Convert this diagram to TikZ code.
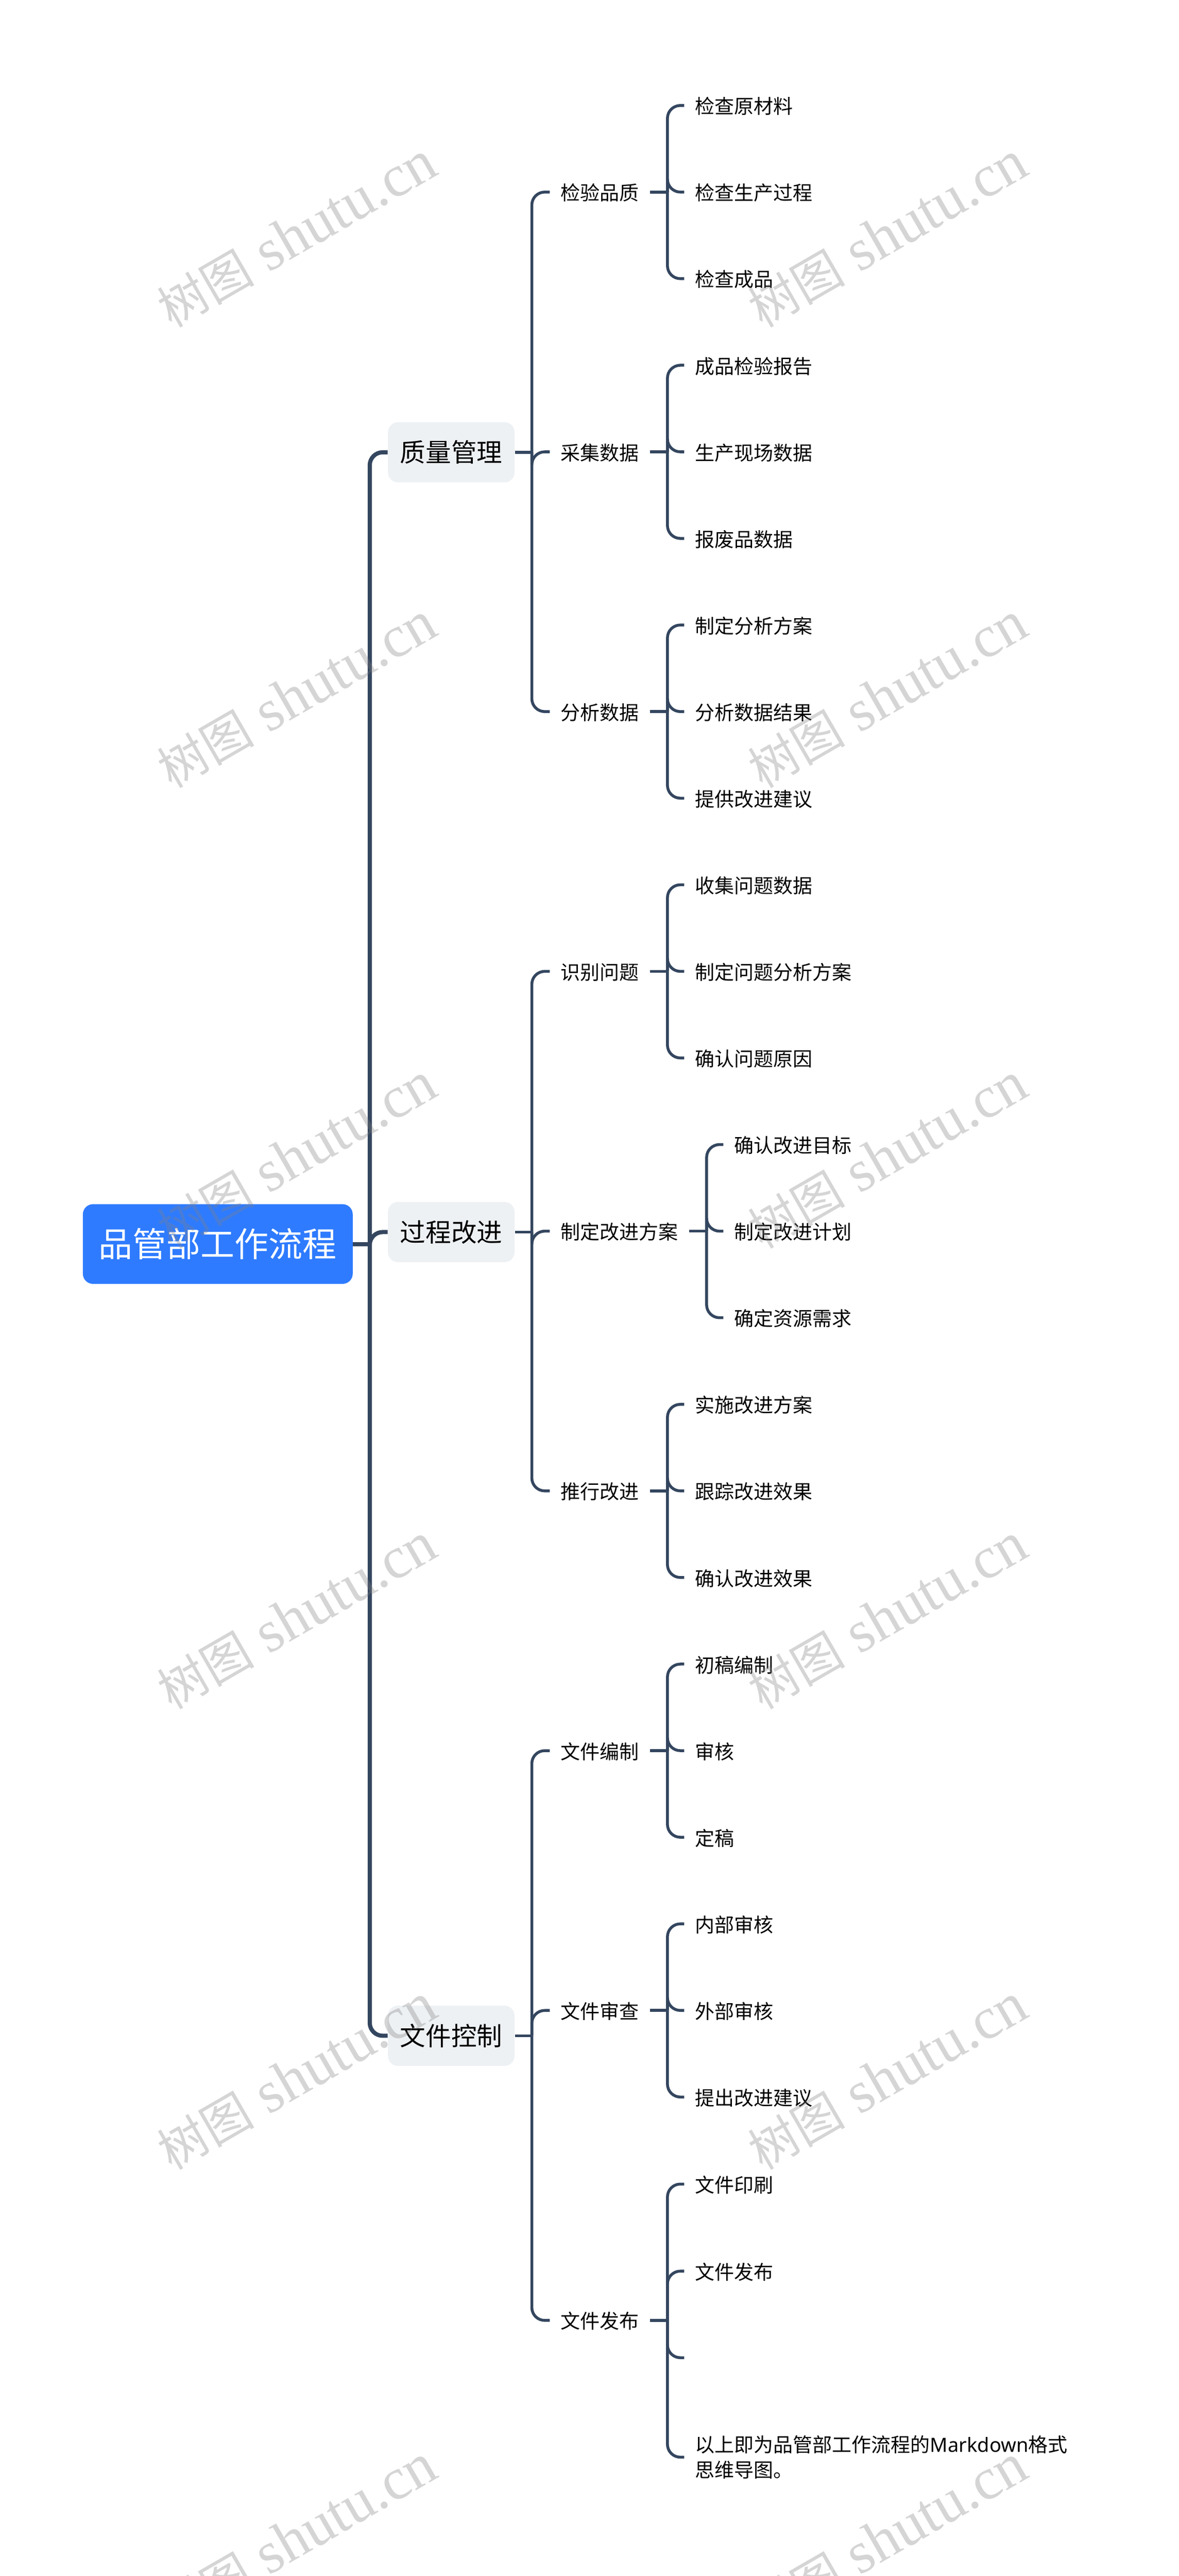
\documentclass[tikz,border=0pt]{standalone}
\usepackage{fontspec}
\setmainfont{Noto Sans CJK SC}
\newfontfamily\latinfont{Noto Sans}
\newfontfamily\markfont{Liberation Serif}
\newfontfamily\markcjk{Noto Sans CJK SC}
\definecolor{linkcol}{HTML}{34465F}
\definecolor{rootcol}{HTML}{2E7BFF}
\definecolor{topcol}{HTML}{EEF1F4}
\tikzset{
	root/.style={fill=rootcol,rounded corners=.22cm,text=white,font=\fontsize{21}{24}\selectfont,minimum width=5.86cm,minimum height=1.73cm,inner sep=0},
	topic/.style={fill=topcol,rounded corners=.22cm,font=\fontsize{15.8}{19}\selectfont,minimum width=2.75cm,minimum height=1.31cm,inner sep=0},
	note/.style={anchor=west,inner xsep=.23cm,inner ysep=.1cm,font=\fontsize{12.1}{15.4}\selectfont,align=left},
	item/.style={note,text height=.46cm,text depth=.1cm},
	linka/.style={draw=linkcol,line width=.09cm,rounded corners=.28cm},
	linkb/.style={draw=linkcol,line width=.062cm,rounded corners=.28cm},
	wmark/.style={text=gray,text opacity=.33,rotate=30,font=\markfont\fontsize{36.5}{37}\selectfont,inner sep=0}
}
\begin{document}
\begin{tikzpicture}
	\useasboundingbox (0,0) rectangle (25.6,-55.93);
	% main branches
	\node[root] (main) at (4.73,-27.01) {品管部工作流程};
	\node[topic] (qual) at (9.8,-9.82) {质量管理};
	\node[topic] (proc) at (9.8,-26.75) {过程改进};
	\node[topic] (docs) at (9.8,-44.2) {文件控制};
	% second level
	\node[item] (q1) at (11.94,-4.17) {检验品质};
	\node[item] (q2) at (11.94,-9.81) {采集数据};
	\node[item] (q3) at (11.94,-15.45) {分析数据};
	\node[item] (p1) at (11.94,-21.09) {识别问题};
	\node[item] (p2) at (11.94,-26.73) {制定改进方案};
	\node[item] (p3) at (11.94,-32.37) {推行改进};
	\node[item] (d1) at (11.94,-38.01) {文件编制};
	\node[item] (d2) at (11.94,-43.65) {文件审查};
	\node[item] (d3) at (11.94,-50.38) {文件发布};
	% leaves
	\node[item] (q11) at (14.86,-2.29) {检查原材料};
	\node[item] (q12) at (14.86,-4.17) {检查生产过程};
	\node[item] (q13) at (14.86,-6.05) {检查成品};
	\node[item] (q21) at (14.86,-7.93) {成品检验报告};
	\node[item] (q22) at (14.86,-9.81) {生产现场数据};
	\node[item] (q23) at (14.86,-11.69) {报废品数据};
	\node[item] (q31) at (14.86,-13.57) {制定分析方案};
	\node[item] (q32) at (14.86,-15.45) {分析数据结果};
	\node[item] (q33) at (14.86,-17.33) {提供改进建议};
	\node[item] (p11) at (14.86,-19.21) {收集问题数据};
	\node[item] (p12) at (14.86,-21.09) {制定问题分析方案};
	\node[item] (p13) at (14.86,-22.97) {确认问题原因};
	\node[item] (p21) at (15.71,-24.85) {确认改进目标};
	\node[item] (p22) at (15.71,-26.73) {制定改进计划};
	\node[item] (p23) at (15.71,-28.61) {确定资源需求};
	\node[item] (p31) at (14.86,-30.49) {实施改进方案};
	\node[item] (p32) at (14.86,-32.37) {跟踪改进效果};
	\node[item] (p33) at (14.86,-34.25) {确认改进效果};
	\node[item] (d11) at (14.86,-36.13) {初稿编制};
	\node[item] (d12) at (14.86,-38.01) {审核};
	\node[item] (d13) at (14.86,-39.89) {定稿};
	\node[item] (d21) at (14.86,-41.77) {内部审核};
	\node[item] (d22) at (14.86,-43.65) {外部审核};
	\node[item] (d23) at (14.86,-45.53) {提出改进建议};
	\node[item] (d31) at (14.86,-47.42) {文件印刷};
	\node[item] (d32) at (14.86,-49.31) {文件发布};
	\coordinate (d33) at (14.86,-51.19);
	\node[note] (d34) at (14.86,-53.35) {以上即为品管部工作流程的{\latinfont Markdown}格式\\思维导图。};
	% forks
	\coordinate (fm) at (8.03,-27.01);
	\coordinate (fq) at (11.55,-9.82);
	\coordinate (fp) at (11.55,-26.75);
	\coordinate (fd) at (11.55,-44.2);
	\draw[linka] (main.east)--(fm);
	\foreach \t in {qual,proc,docs}
		\draw[linka] (fm)|-(\t.west);
	\foreach \f/\t in {qual/fq,proc/fp,docs/fd}
		\draw[linkb] (\f.east)--(\t);
	\foreach \f/\t in {fq/q1,fq/q2,fq/q3,fp/p1,fp/p2,fp/p3,fd/d1,fd/d2,fd/d3}
		\draw[linkb] (\f)|-(\t.west);
	\foreach \s in {q1,q2,q3,p1,p2,p3,d1,d2,d3}{
		\draw[linkb] (\s.east)--++(.38,0) coordinate (f\s);
		\foreach \n in {1,2,3}
			\draw[linkb] (f\s)|-(\s\n.west);
	}
	\draw[linkb] (fd3)|-(d34.west);
	% watermarks
	\foreach \x in {6.45,19.28}
		\foreach \y in {-5.1,-15.1,-25.1,-35.1,-45.1,-55.1}
			\node[wmark] at (\x,\y) {{\markcjk\fontsize{30}{37}\selectfont 树图} shutu.cn};
\end{tikzpicture}
\end{document}
